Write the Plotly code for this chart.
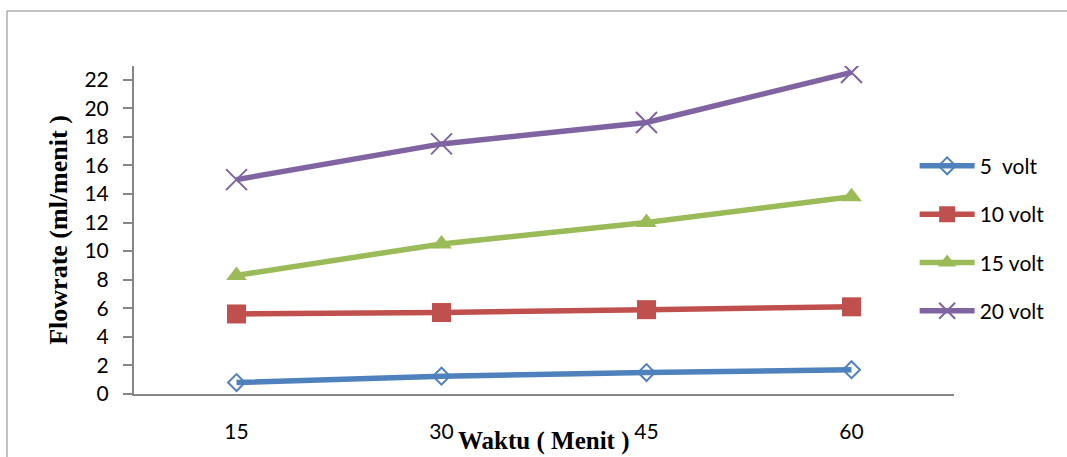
import plotly.graph_objects as go

waktu = ["15", "30", "45", "60"]
volt5 = [0.8, 1.25, 1.5, 1.7]
volt10 = [5.6, 5.7, 5.9, 6.1]
volt15 = [8.3, 10.5, 12.0, 13.8]
volt20 = [15.0, 17.5, 19.0, 22.5]
y_ticks = list(range(0, 23, 2))

series = [
    ("5  volt", volt5, "#4F81BD", dict(symbol="diamond-open", size=13, line=dict(width=2))),
    ("10 volt", volt10, "#C0504D", dict(symbol="square", size=19)),
    ("15 volt", volt15, "#9BBB59", dict(symbol="triangle-up", size=18)),
    ("20 volt", volt20, "#8064A2", dict(symbol="x-thin-open", size=21, line=dict(width=2))),
]

xs = list(range(len(waktu)))
fig = go.Figure()
for i, (name, vals, col, mk) in enumerate(series):
    m = dict(mk)
    m["color"] = col
    if "line" in m:
        m["line"] = dict(m["line"], color=col)
    fig.add_trace(go.Scatter(
        x=xs, y=vals, name=name, mode="lines+markers",
        line=dict(color=col, width=5.5), marker=m, legendgroup=f"g{i}",
    ))

L, R, T, B = 134, 113, 66, 63
pw = 1067 - L - R
ph = 457 - T - B
serif = "Liberation Serif, Times New Roman, serif"

fig.update_layout(
    width=1067, height=457,
    margin=dict(l=L, r=R, t=T, b=B, autoexpand=False),
    paper_bgcolor="white", plot_bgcolor="white",
    font=dict(family="Lato, Open Sans, sans-serif", size=21, color="black"),
    showlegend=True,
    legend=dict(
        x=0.952, y=0.757, xanchor="left", yanchor="top",
        traceorder="grouped", tracegroupgap=18,
        font=dict(size=21), bgcolor="rgba(0,0,0,0)", itemwidth=55,
    ),
    xaxis=dict(
        range=[-0.5, 3.5], tickmode="array", tickvals=xs, ticktext=waktu,
        showline=True, linecolor="#868686", linewidth=2, showgrid=False,
        zeroline=False, ticks="", ticklabelstandoff=18, automargin=False,
    ),
    yaxis=dict(
        range=[0, 22.95], tickmode="array", tickvals=y_ticks,
        showline=True, linecolor="#868686", linewidth=2, showgrid=False,
        zeroline=False, ticks="outside", ticklen=9, tickcolor="#868686", tickwidth=2,
        ticklabelstandoff=10, automargin=False,
        title=dict(text="<b>Flowrate (ml/menit )</b>", standoff=9,
                   font=dict(family=serif, size=26)),
    ),
    annotations=[dict(
        text="<b>Waktu ( Menit )</b>", xref="paper", yref="paper",
        x=0.5, y=-47 / ph, xanchor="center", yanchor="middle", showarrow=False,
        font=dict(family=serif, size=25, color="black"),
    )],
)

# outer chart border (top and left edges visible in the crop)
fig.add_shape(type="line", xref="paper", yref="paper",
              x0=(7 - L) / pw, x1=(1067 - L) / pw,
              y0=(457 - B - 11) / ph, y1=(457 - B - 11) / ph,
              line=dict(color="#868686", width=1), layer="below")
fig.add_shape(type="line", xref="paper", yref="paper",
              x0=(7 - L) / pw, x1=(7 - L) / pw,
              y0=(457 - B - 11) / ph, y1=-B / ph,
              line=dict(color="#868686", width=1), layer="below")

fig.write_html(
    "out.html",
    config={"displayModeBar": False},
    post_script="document.body.style.margin='0';document.body.style.overflow='hidden';",
)
